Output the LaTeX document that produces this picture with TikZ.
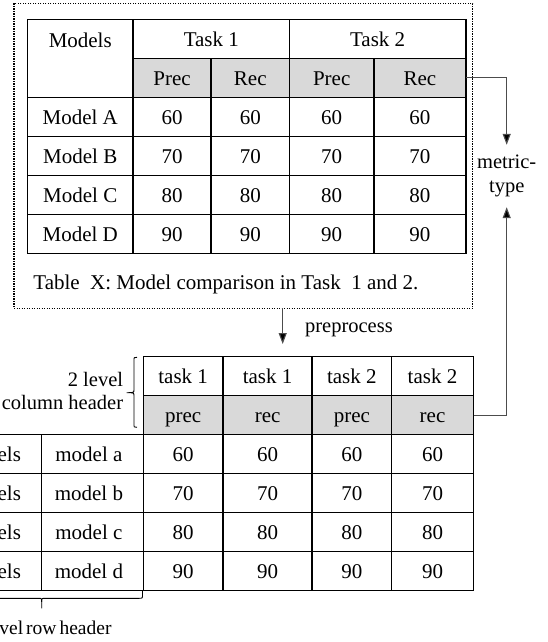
\documentclass[tikz,border=0pt]{standalone}
\usepackage{fontspec}
\setmainfont{Liberation Serif}
\usetikzlibrary{arrows.meta}
\newcommand\tabfnt{\fontsize{21}{25}\selectfont}
\newcommand\lblfnt{\fontsize{20.5}{23.4}\selectfont}
% #1 style, #2 name, #3 x1, #4 y1, #5 x2, #6 y2, #7 text
\newcommand\tcell[7]{\node[cellbox,#1,minimum width={(#5)-(#3)},minimum height={(#6)-(#4)}] (#2) at ({((#3)+(#5))/2},{((#4)+(#6))/2}) {#7};}
\begin{document}
\begin{tikzpicture}[x=1pt,y=-1pt,
  cellbox/.style={draw, line width=1.5pt, inner sep=0pt, outer sep=0pt, font=\tabfnt, text=black, text height=15pt, text depth=0pt},
  grey/.style={fill=gray!30},
  lbl/.style={inner sep=0pt, font=\lblfnt},
  arr/.style={line width=1.1pt, draw=black!70, -{Triangle[length=11pt,width=8pt,fill=black]}},
  brc/.style={line width=0.9pt, draw=black},
  srcbox/.style={draw, line width=1.4pt, dash pattern=on 1.3pt off 1.2pt, inner sep=0pt, outer sep=0pt}]
\useasboundingbox (0,0) rectangle (548,642);

% ---- source (dotted) box ----
\node[srcbox, minimum width=458.7pt, minimum height=305pt] (src) at (243.35,155.8) {};

% ---- top table ----
\tcell{grey}{t-p1}{133.2}{58.3}{211.1}{97.3}{Prec}
\tcell{grey}{t-r1}{211.1}{58.3}{289.4}{97.3}{Rec}
\tcell{grey}{t-p2}{289.4}{58.3}{374.0}{97.3}{Prec}
\tcell{grey}{t-r2}{374.0}{58.3}{465.9}{97.3}{Rec}
\tcell{}{t-models}{27.3}{19.3}{133.2}{97.3}{}
\node[font=\tabfnt, inner sep=0pt] (t-models-lbl) at (80.25,40) {Models};
\tcell{}{t-task1}{133.2}{19.3}{289.4}{58.3}{Task 1}
\tcell{}{t-task2}{289.4}{19.3}{465.9}{58.3}{Task 2}
\foreach \lab/\v [count=\i] in {A/60,B/70,C/80,D/90}{
  \pgfmathsetmacro\ya{97.3+39*(\i-1)}
  \pgfmathsetmacro\yb{\ya+39}
  \tcell{}{t-m\i}{27.3}{\ya}{133.2}{\yb}{Model \lab}
  \tcell{}{t-a\i}{133.2}{\ya}{211.1}{\yb}{\v}
  \tcell{}{t-b\i}{211.1}{\ya}{289.4}{\yb}{\v}
  \tcell{}{t-c\i}{289.4}{\ya}{374.0}{\yb}{\v}
  \tcell{}{t-d\i}{374.0}{\ya}{465.9}{\yb}{\v}
}
\node[font=\tabfnt, anchor=west, inner sep=0pt] (cap) at (33.2,284) {Table\ \ X: Model comparison in Task\ \ 1 and 2.};

% ---- bottom table ----
\tcell{}{b-h1}{143.3}{356.7}{223.0}{395.7}{task 1}
\tcell{}{b-h2}{223.0}{356.7}{312.2}{395.7}{task 1}
\tcell{}{b-h3}{312.2}{356.7}{391.5}{395.7}{task 2}
\tcell{}{b-h4}{391.5}{356.7}{473.5}{395.7}{task 2}
\tcell{grey}{b-s1}{143.3}{395.7}{223.0}{434.7}{prec}
\tcell{grey}{b-s2}{223.0}{395.7}{312.2}{434.7}{rec}
\tcell{grey}{b-s3}{312.2}{395.7}{391.5}{434.7}{prec}
\tcell{grey}{b-s4}{391.5}{395.7}{473.5}{434.7}{rec}
\foreach \lab/\v [count=\i] in {a/60,b/70,c/80,d/90}{
  \pgfmathsetmacro\ya{434.7+39*(\i-1)}
  \pgfmathsetmacro\yb{\ya+39}
  \tcell{}{b-g\i}{-60.3}{\ya}{41.5}{\yb}{models}
  \tcell{}{b-m\i}{41.5}{\ya}{143.3}{\yb}{\hspace{-7pt}model \lab}
  \tcell{}{b-a\i}{143.3}{\ya}{223.0}{\yb}{\v}
  \tcell{}{b-b\i}{223.0}{\ya}{312.2}{\yb}{\v}
  \tcell{}{b-c\i}{312.2}{\ya}{391.5}{\yb}{\v}
  \tcell{}{b-d\i}{391.5}{\ya}{473.5}{\yb}{\v}
}

% ---- braces ----
\coordinate (cb-top) at (137,357.3);
\coordinate (cb-tip) at (126.7,392.7);
\coordinate (cb-bot) at (137,427.3);
\draw[brc] (cb-top) .. controls (134,357.3) .. (134,360.5) -- (134,389.5)
  .. controls (134,392.7) .. (cb-tip) .. controls (134,392.7) .. (134,395.9)
  -- (134,424.1) .. controls (134,427.3) .. (cb-bot);
\node[lbl, align=right, anchor=east] (colhdr) at (123.3,391) {2 level\\column header};

\coordinate (rb-right) at (142.5,590.7);
\coordinate (rb-tip) at (41.7,608.3);
\coordinate (rb-left) at (-60.3,590.7);
\draw[brc] (rb-right) -- (142.5,594.8) .. controls (142.5,598.3) .. (139,598.3)
  -- (45.2,598.3) .. controls (41.7,598.3) .. (41.7,601.8) -- (rb-tip);
\draw[brc] (41.7,601.8) .. controls (41.7,598.3) .. (38.2,598.3) -- (-56.8,598.3)
  .. controls (-60.3,598.3) .. (-60.3,594.8) -- (rb-left);
\node[inner sep=0pt, font=\fontsize{19.5}{23}\selectfont, anchor=east] (rowhdr) at (111.7,628.3) {2\hspace{3.5pt}level\hspace{3pt}row\hspace{3pt}header};

% ---- preprocess arrow ----
\coordinate (pp-tip) at (282.7,344);
\draw[arr] (src.south -| pp-tip) -- (pp-tip);
\node[lbl] (pp-lbl) at (348.9,330) {preprocess};

% ---- metric-type ----
\node[lbl, align=center, minimum height=62pt] (mt) at (506.7,176) {metric-\\type};
\draw[arr] (t-r2.east) -| (mt.north);
\draw[arr] (b-s4.east) -| (mt.south);
\end{tikzpicture}
\end{document}
